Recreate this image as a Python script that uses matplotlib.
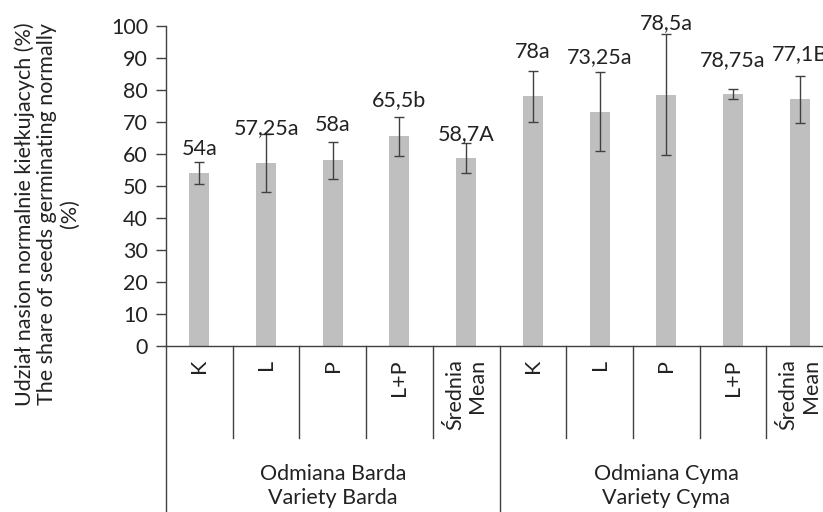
import matplotlib
matplotlib.use("Agg")
import matplotlib.pyplot as plt
import numpy as np

plt.rcParams['font.family'] = ['Lato', 'DejaVu Sans']

# data
categories = ['K', 'L', 'P', 'L+P', 'Średnia\nMean',
              'K', 'L', 'P', 'L+P', 'Średnia\nMean']
values = [54, 57.25, 58, 65.5, 58.7, 78, 73.25, 78.5, 78.75, 77.1]
errors = [3.5, 9.0, 5.7, 6.2, 4.7, 8.0, 12.3, 18.9, 1.5, 7.3]
value_labels = ['54a', '57,25a', '58a', '65,5b', '58,7A',
                '78a', '73,25a', '78,5a', '78,75a', '77,1B']
label_y = [61.6, 68.2, 69.1, 76.9, 66.2, 92.0, 90.4, 101.0, 89.4, 91.1]
groups = ['Odmiana Barda\nVariety Barda', 'Odmiana Cyma\nVariety Cyma']

text_col = '#222222'
line_col = '#404040'
fs = 15.5

fig = plt.figure(figsize=(8.23, 5.12), dpi=100)
ax = fig.add_axes([166/823, 166/512, 667/823, 320/512])

x = np.arange(len(values)) + 0.5
ax.bar(x, values, width=0.3, color='#BFBFBF', zorder=2)
ax.errorbar(x, values, yerr=errors, fmt='none', ecolor=line_col,
            elinewidth=1, capsize=3.5, capthick=1, zorder=3)

for xi, lab, ly in zip(x, value_labels, label_y):
    ax.text(xi, ly, lab, ha='center', va='center', fontsize=fs,
            color=text_col, clip_on=False)

ax.set_xlim(0, 10)
ax.set_ylim(0, 100)
ax.set_yticks(np.arange(0, 101, 10))
ax.tick_params(axis='y', labelsize=fs, colors=text_col, length=7,
               width=1, color=line_col, pad=6)
ax.set_xticks([])
for s in ['top', 'right']:
    ax.spines[s].set_visible(False)
for s in ['left', 'bottom']:
    ax.spines[s].set_color(line_col)
    ax.spines[s].set_linewidth(1)

# multi-level category axis below the plot
tr = ax.transAxes
def ax_x(v):
    return v / 10.0

for b in [1, 2, 3, 4, 6, 7, 8, 9]:
    ax.plot([ax_x(b), ax_x(b)], [0, -92/320], transform=tr, color=line_col,
            lw=1, clip_on=False)
for b in [0, 5, 10]:
    ax.plot([ax_x(b), ax_x(b)], [0, -1.1], transform=tr, color=line_col,
            lw=1, clip_on=False)

for xi, c in zip(x, categories):
    ax.text(ax_x(xi), -13/320, c, transform=tr, rotation=90, ha='center',
            va='top', multialignment='right', fontsize=fs, color=text_col,
            linespacing=1.15)

for gi, g in enumerate(groups):
    ax.text(ax_x(2.5 + 5 * gi), -140/320, g, transform=tr, ha='center',
            va='center', multialignment='center', fontsize=fs,
            color=text_col, linespacing=1.3)

fig.text(47/823, 1 - 214/512,
         'Udział nasion normalnie kiełkujacych (%)\n'
         'The share of seeds germinating normally\n(%)',
         rotation=90, ha='center', va='center', multialignment='center',
         fontsize=fs, color=text_col, linespacing=1.15)

fig.savefig('out.png', dpi=100)
